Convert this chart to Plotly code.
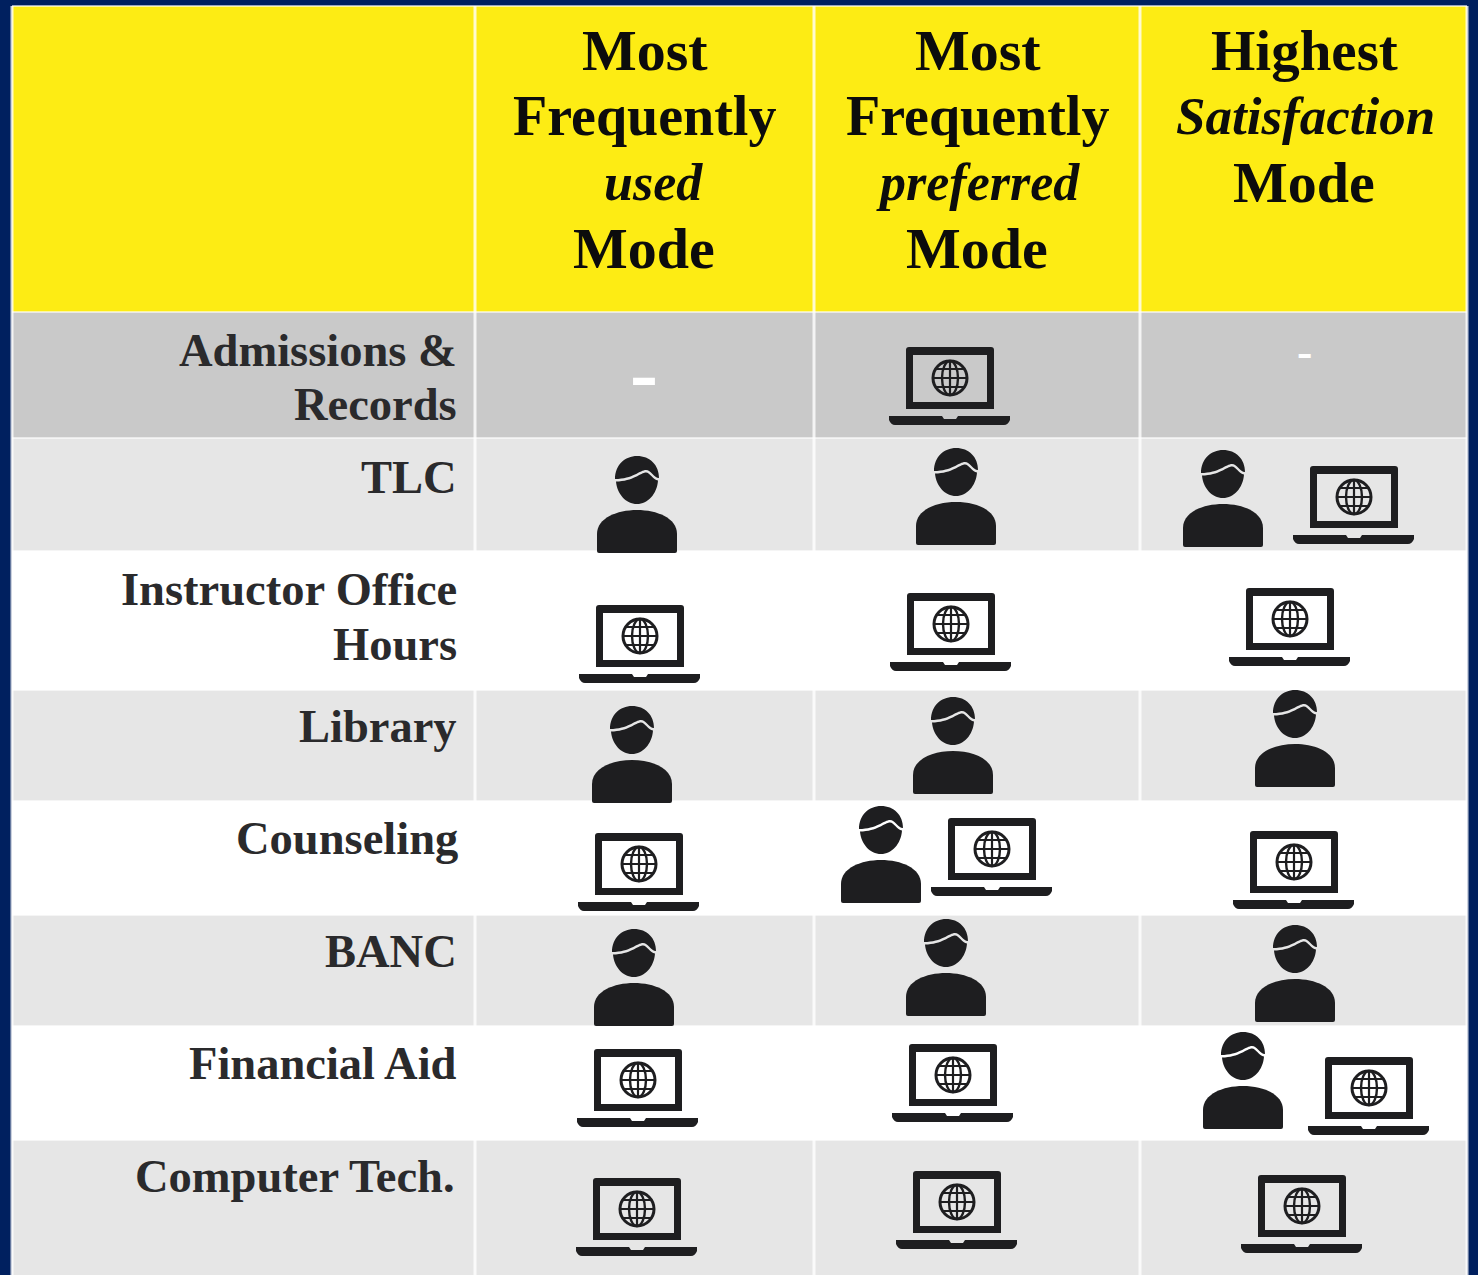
import plotly.graph_objects as go

# ---------- content ----------
row_labels = [
    ["Admissions &", "Records"], ["TLC"], ["Instructor Office", "Hours"], ["Library"],
    ["Counseling"], ["BANC"], ["Financial Aid"], ["Computer Tech."],
]
col_headers = [
    ["Most", "Frequently", "<i>used</i>", "Mode"],
    ["Most", "Frequently", "<i>preferred</i>", "Mode"],
    ["Highest", "<i>Satisfaction</i>", "Mode"],
]
# P = in person, L = online (laptop), - = no clear mode
used_mode = ["-", "P", "L", "P", "L", "P", "L", "L"]
preferred_mode = ["L", "P", "L", "P", "PL", "P", "L", "L"]
satisfaction_mode = ["-", "PL", "L", "P", "L", "P", "PL", "L"]
mode_columns = [used_mode, preferred_mode, satisfaction_mode]

# ---------- layout (pixels) ----------
W, H = 1478, 1275
NAVY, YELLOW, INK = "#00205f", "#fdec14", "#1e1e20"
TABLE_L, TABLE_R, TABLE_T = 12, 1467, 6
col_edges = [TABLE_L, 475, 814, 1140, TABLE_R]
row_edges = [312, 438, 551, 690, 801, 915, 1026, 1140, H]
row_fills = ["#c9c9c9", "#e6e6e6", "#ffffff", "#e6e6e6", "#ffffff", "#e6e6e6", "#ffffff", "#e6e6e6"]
label_y = [[350, 404], [477], [589, 644], [726], [838], [951], [1063], [1176]]
label_x = [459, 459, 459, 459, 460, 459, 459, 457]
header_x = [[645, 644, 653, 644], [978, 977, 978, 977], [1304, 1305, 1304]]
header_y = [[50, 116, 182, 248], [50, 116, 182, 248], [50, 116, 182]]
header_size = [[58, 56, 52, 58], [58, 56, 52, 58], [57, 53, 58]]
dash_place = {(0, 0): (644, 372, 84), (0, 2): (1304, 351, 46)}
# (row, col, position in cell) -> icon centre x, icon top y
icon_place = {
    (0, 1, 0): (950, 347),
    (1, 0, 0): (637, 456), (1, 1, 0): (956, 448), (1, 2, 0): (1223, 450), (1, 2, 1): (1354, 466),
    (2, 0, 0): (640, 605), (2, 1, 0): (951, 593), (2, 2, 0): (1290, 588),
    (3, 0, 0): (632, 706), (3, 1, 0): (953, 697), (3, 2, 0): (1295, 690),
    (4, 0, 0): (639, 833), (4, 1, 0): (881, 806), (4, 1, 1): (992, 818), (4, 2, 0): (1294, 831),
    (5, 0, 0): (634, 929), (5, 1, 0): (946, 919), (5, 2, 0): (1295, 925),
    (6, 0, 0): (638, 1049), (6, 1, 0): (953, 1044), (6, 2, 0): (1243, 1032), (6, 2, 1): (1369, 1057),
    (7, 0, 0): (637, 1178), (7, 1, 0): (957, 1171), (7, 2, 0): (1302, 1175),
}

fig = go.Figure(go.Scatter(x=[0, W], y=[0, H], mode="markers", marker=dict(opacity=0),
                           hoverinfo="skip", showlegend=False))
shapes, annotations = [], []


def rect(x0, y0, x1, y1, fill):
    shapes.append(dict(type="rect", x0=x0, y0=y0, x1=x1, y1=y1, fillcolor=fill,
                       line=dict(width=0), layer="below"))


def ellipse_path(cx, cy, rx, ry):
    k = 0.5523
    return (f"M{cx-rx},{cy} C{cx-rx},{cy-k*ry} {cx-k*rx},{cy-ry} {cx},{cy-ry} "
            f"C{cx+k*rx},{cy-ry} {cx+rx},{cy-k*ry} {cx+rx},{cy} "
            f"C{cx+rx},{cy+k*ry} {cx+k*rx},{cy+ry} {cx},{cy+ry} "
            f"C{cx-k*rx},{cy+ry} {cx-rx},{cy+k*ry} {cx-rx},{cy} Z")


def filled(path):
    shapes.append(dict(type="path", path=path, fillcolor=INK, line=dict(width=0), layer="above"))


def stroked(path, w):
    shapes.append(dict(type="path", path=path, line=dict(color=INK, width=w), layer="above"))


def person(cx, top):
    # head: upper hair cap and lower face, divided by a thin swoosh of background
    y = top
    filled(f"M{cx-22},{y+23} C{cx-22},{y+9} {cx-12},{y} {cx},{y} C{cx+13},{y} {cx+22},{y+9} {cx+22},{y+22} "
           f"C{cx+17},{y+22} {cx+14},{y+14} {cx+9},{y+14} C{cx+3},{y+14} {cx-4},{y+23} {cx-22},{y+23} Z")
    filled(f"M{cx-21},{y+25.5} C{cx-4},{y+25.5} {cx+4},{y+16.5} {cx+9},{y+16.5} C{cx+13},{y+16.5} {cx+16},{y+24} {cx+21},{y+24.5} "
           f"C{cx+20},{y+38} {cx+11},{y+48} {cx},{y+48} C{cx-11},{y+48} {cx-20},{y+38} {cx-21},{y+25.5} Z")
    # torso
    filled(f"M{cx-40},{y+78} C{cx-40},{y+62} {cx-20},{y+54} {cx},{y+54} C{cx+20},{y+54} {cx+40},{y+62} {cx+40},{y+78} "
           f"L{cx+40},{y+95} Q{cx+40},{y+97} {cx+38},{y+97} L{cx-38},{y+97} Q{cx-40},{y+97} {cx-40},{y+95} Z")


def laptop(cx, top):
    y = top
    # screen frame with hole
    filled(f"M{cx-44},{y+3} Q{cx-44},{y} {cx-41},{y} L{cx+41},{y} Q{cx+44},{y} {cx+44},{y+3} "
           f"L{cx+44},{y+62} L{cx-44},{y+62} Z "
           f"M{cx-37},{y+8} L{cx-37},{y+55} L{cx+37},{y+55} L{cx+37},{y+8} Z")
    # base with notch
    filled(f"M{cx-61},{y+69} L{cx-8},{y+69} L{cx-6},{y+72} L{cx+6},{y+72} L{cx+8},{y+69} L{cx+60},{y+69} "
           f"L{cx+60},{y+73} Q{cx+58},{y+78} {cx+54},{y+78} L{cx-55},{y+78} Q{cx-59},{y+78} {cx-61},{y+73} Z")
    # globe
    gx, gy = cx, y + 31
    stroked(ellipse_path(gx, gy, 17, 17), 3)
    stroked(ellipse_path(gx, gy, 8, 17), 2.4)
    stroked(f"M{gx},{gy-17} L{gx},{gy+17}", 2.2)
    stroked(f"M{gx-17},{gy} L{gx+17},{gy}", 2.2)
    stroked(f"M{gx-14},{gy-9} L{gx+14},{gy-9}", 2)
    stroked(f"M{gx-14},{gy+9} L{gx+14},{gy+9}", 2)


def text(x, y, s, size, anchor, color=INK):
    annotations.append(dict(x=x, y=y, text=s, showarrow=False, xanchor=anchor, yanchor="middle",
                            align=anchor, font=dict(family="Liberation Serif", size=size, color=color)))


# background, bands
rect(0, 0, W, H, NAVY)
rect(TABLE_L, TABLE_T, TABLE_R, 312, YELLOW)
for i, fill in enumerate(row_fills):
    rect(TABLE_L, row_edges[i], TABLE_R, row_edges[i + 1], fill)
# cell rules
for x in col_edges:
    shapes.append(dict(type="line", x0=x, x1=x, y0=TABLE_T, y1=H,
                       line=dict(color="rgba(255,255,255,0.8)", width=3), layer="below"))
for y in [TABLE_T] + row_edges[:-1]:
    shapes.append(dict(type="line", x0=TABLE_L, x1=TABLE_R, y0=y, y1=y,
                       line=dict(color="rgba(255,255,255,0.6)", width=2), layer="below"))

# text
for c, lines in enumerate(col_headers):
    for ln, s in enumerate(lines):
        text(header_x[c][ln], header_y[c][ln], f"<b>{s}</b>", header_size[c][ln], "center", "#0c0c0c")
for r, lines in enumerate(row_labels):
    for ln, s in enumerate(lines):
        text(label_x[r], label_y[r][ln], f"<b>{s}</b>", 46.5, "right", "#2a2a2c")

# cells
for c, col in enumerate(mode_columns):
    for r, mode in enumerate(col):
        if mode == "-":
            x, y, size = dash_place[(r, c)]
            text(x, y, "<b>-</b>", size, "center", "#ffffff")
            continue
        for k, m in enumerate(mode):
            x, y = icon_place[(r, c, k)]
            (person if m == "P" else laptop)(x, y)

fig.update_layout(
    width=W, height=H, margin=dict(l=0, r=0, t=0, b=0), autosize=False,
    paper_bgcolor=NAVY, plot_bgcolor=NAVY, showlegend=False,
    xaxis=dict(range=[0, W], visible=False, fixedrange=True),
    yaxis=dict(range=[H, 0], visible=False, fixedrange=True),
    shapes=shapes, annotations=annotations,
)
fig.write_html("out.html", config=dict(displayModeBar=False),
               post_script="document.body.style.margin='0';document.body.style.overflow='hidden';")
